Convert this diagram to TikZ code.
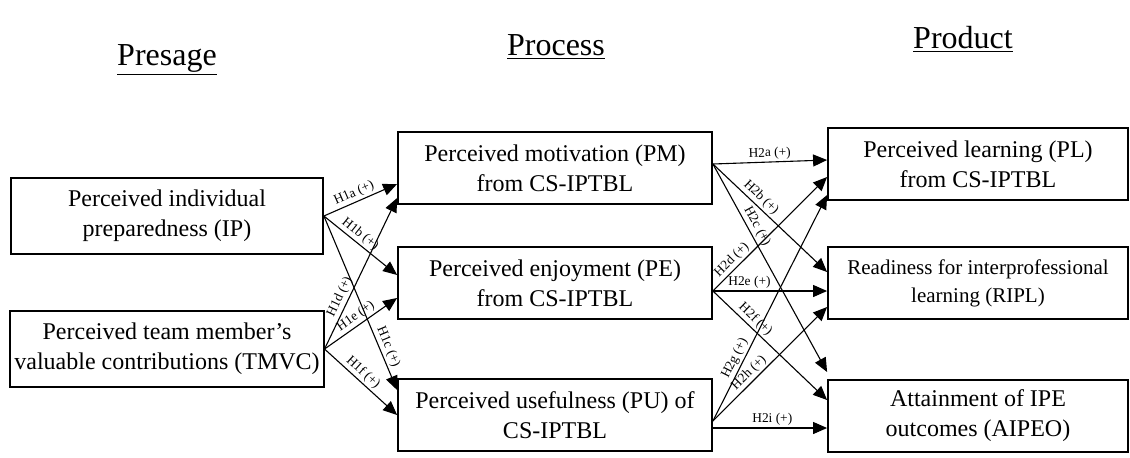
\documentclass[tikz,border=0pt]{standalone}
\usepackage{fontspec}
\setmainfont{Liberation Serif}
\usetikzlibrary{arrows.meta}

\begin{document}
\begin{tikzpicture}[x=0.5pt,y=-0.5pt,
  box/.style={draw, line width=0.9pt, align=center, inner sep=2pt, font=\fontsize{12}{15}\selectfont},
  leftbox/.style={box, minimum width=156pt, minimum height=38pt},
  midbox/.style={box, minimum width=157pt, minimum height=36pt},
  rightbox/.style={box, minimum width=150pt, minimum height=36pt},
  title/.style={font=\fontsize{16}{18}\selectfont, anchor=base},
  hyp/.style={-{Triangle[length=7pt,width=6pt]}, line width=0.55pt},
  hlabel/.style={sloped, above, inner sep=1pt, font=\fontsize{6.7}{8}\selectfont}]
\useasboundingbox (0,0) rectangle (1130,457);

\node[title] (presage) at (167,65) {\underline{Presage}};
\node[title] (process) at (556,55) {\underline{Process}};
\node[title] (product) at (963,48) {\underline{Product}};

\node[leftbox] (ip) at (167,216) {Perceived individual\\preparedness (IP)};
\node[leftbox] (tmvc) at (167,349) {Perceived team member’s\\valuable contributions (TMVC)};

\node[midbox] (pm) at (555,168) {Perceived motivation (PM)\\from CS-IPTBL};
\node[midbox] (pe) at (555,283) {Perceived enjoyment (PE)\\from CS-IPTBL};
\node[midbox] (pu) at (555,415) {Perceived usefulness (PU) of\\CS-IPTBL};

\node[rightbox] (pl) at (978,164) {Perceived learning (PL)\\from CS-IPTBL};
\node[rightbox, font=\fontsize{10.5}{14}\selectfont] (ripl) at (978,283) {Readiness for interprofessional\\learning (RIPL)};
\node[rightbox] (aipeo) at (978,416) {Attainment of IPE\\outcomes (AIPEO)};

\draw[hyp] (ip.east) -- node[hlabel,pos=0.46] {H1a (+)} ([yshift=-8pt]pm.west);
\draw[hyp] (ip.east) -- node[hlabel,pos=0.42] {H1b (+)} ([yshift=4pt]pe.west);
\draw[hyp] (ip.east) -- node[hlabel,pos=0.77] {H1c (+)} ([yshift=12.5pt]pu.west);
\draw[hyp] (tmvc.east) -- node[hlabel,pos=0.32] {H1d (+)} ([yshift=-15pt]pm.west);
\draw[hyp] (tmvc.east) -- node[hlabel,pos=0.5] {H1e (+)} ([yshift=-7.5pt]pe.west);
\draw[hyp] (tmvc.east) -- node[hlabel,pos=0.45] {H1f (+)} (pu.west);

\draw[hyp] ([yshift=2pt]pm.east) -- node[hlabel,pos=0.5] {H2a (+)} ([yshift=2pt]pl.west);
\draw[hyp] ([yshift=2pt]pm.east) -- node[hlabel,pos=0.37] {H2b (+)} ([yshift=5.5pt]ripl.west);
\draw[hyp] ([yshift=2pt]pm.east) -- node[hlabel,pos=0.32] {H2c (+)} ([yshift=22pt]aipeo.west);
\draw[hyp] ([yshift=-4pt]pe.east) -- node[hlabel,pos=0.22] {H2d (+)} ([yshift=-6.5pt]pl.west);
\draw[hyp] ([yshift=-4pt]pe.east) -- node[hlabel,pos=0.32] {H2e (+)} ([yshift=-4pt]ripl.west);
\draw[hyp] ([yshift=-4pt]pe.east) -- node[hlabel,pos=0.32] {H2f (+)} ([yshift=8pt]aipeo.west);
\draw[hyp] ([yshift=-3pt]pu.east) -- node[hlabel,pos=0.26] {H2g (+)} ([yshift=-15.5pt]pl.west);
\draw[hyp] ([yshift=-3pt]pu.east) -- node[hlabel,pos=0.37] {H2h (+)} ([yshift=-12pt]ripl.west);
\draw[hyp] ([yshift=-6.5pt]pu.east) -- node[hlabel,pos=0.52] {H2i (+)} ([yshift=-6pt]aipeo.west);
\end{tikzpicture}
\end{document}
